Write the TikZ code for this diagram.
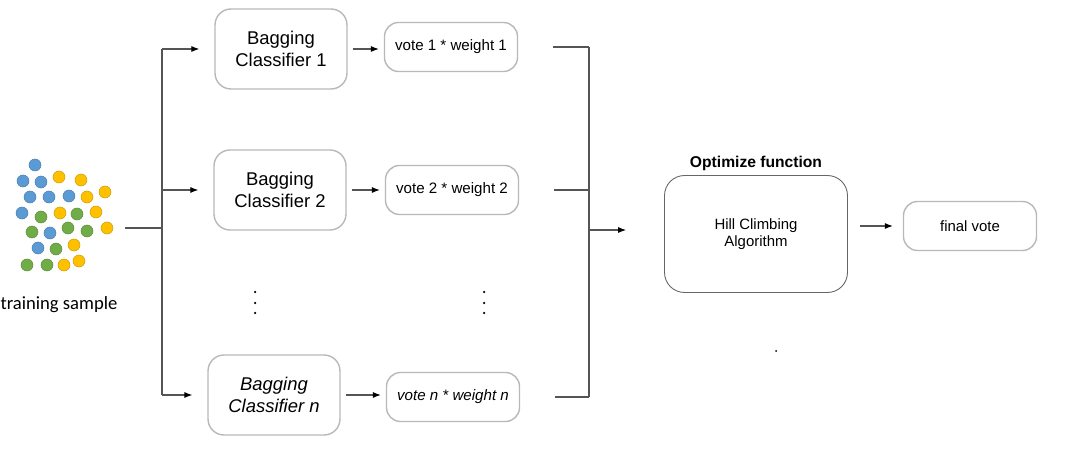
\documentclass[tikz,border=0pt]{standalone}
\usepackage{fontspec}
\setmainfont{Liberation Sans}
\newfontfamily\calibrifont{Carlito}
\usetikzlibrary{arrows.meta}
\definecolor{dotblue}{HTML}{5B9BD5}
\definecolor{dotyellow}{HTML}{FFC000}
\definecolor{dotgreen}{HTML}{70AD47}
\definecolor{boxgray}{HTML}{B8B8B8}
\definecolor{linegray}{HTML}{555555}

\begin{document}
\begin{tikzpicture}[x=0.02cm,y=-0.02cm,
    clfbox/.style={draw=boxgray,line width=0.8pt,rounded corners=0.32cm,
      minimum width=2.64cm,minimum height=1.6cm,align=center,
      font=\fontsize{10.5}{12.5}\selectfont},
    votebox/.style={draw=boxgray,line width=0.8pt,rounded corners=0.28cm,
      minimum width=2.66cm,minimum height=0.98cm,
      font=\fontsize{8.6}{10}\selectfont},
    optbox/.style={draw=gray!80!black,line width=0.5pt,rounded corners=0.4cm,
      minimum width=3.66cm,minimum height=2.34cm,align=center,
      font=\fontsize{8.5}{10}\selectfont},
    wire/.style={draw=linegray,line width=0.6pt},
    wirearrow/.style={wire,-{Latex[length=4.5pt,width=3.4pt,color=black]}}]

  \useasboundingbox (0,0) rectangle (1065,452);

  % training sample
  \foreach \x/\y/\c in {35/165/dotblue,
      23/181/dotblue, 41/182/dotblue, 59/177/dotyellow, 81/180/dotyellow,
      30/197/dotblue, 49/197/dotblue, 69/196/dotblue, 87/197/dotyellow, 105/192/dotyellow,
      22/213/dotblue, 41/217/dotgreen, 60/213/dotyellow, 77/214/dotgreen, 96/212/dotyellow,
      32/232/dotgreen, 50/233/dotblue, 68/228/dotgreen, 87/231/dotgreen, 107/228/dotyellow,
      38/248/dotblue, 56/249/dotgreen, 74/245/dotyellow,
      27/265/dotgreen, 47/265/dotgreen, 64/265/dotyellow, 79/261/dotyellow}
    \filldraw[fill=\c,draw=\c!80!black,line width=0.3pt] (\x,\y) circle (0.12cm);
  \node[font=\calibrifont\fontsize{10.6}{12}\selectfont] (lbl) at (59,305) {training sample};

  % classifiers and votes
  \node[clfbox] (bc1) at (281,49) {Bagging\\Classifier 1};
  \node[clfbox] (bc2) at (280,190) {Bagging\\Classifier 2};
  \node[clfbox] (bcn) at (274,395) {\itshape Bagging\\\itshape Classifier n};
  \node[votebox] (v1) at (451,47) {vote 1 * weight 1};
  \node[votebox] (v2) at (452,190) {vote 2 * weight 2};
  \node[votebox] (vn) at (453,397) {\itshape vote n * weight n};

  \foreach \y in {292,303,313} {
    \fill (255,\y) circle (0.025cm);
    \fill (484,\y) circle (0.025cm);
  }

  % optimizer
  \node[font=\bfseries\fontsize{8.9}{10}\selectfont] (opt) at (756,163) {Optimize function};
  \node[optbox] (hill) at (756,234) {Hill Climbing\\Algorithm};
  \node[votebox,font=\fontsize{8.5}{10}\selectfont] (fin) at (970,226) {final vote};
  \fill (776,351) circle (0.02cm);

  % connectors
  \coordinate (src) at (125,228);
  \coordinate (fork) at (162,228);
  \coordinate (merge) at (589,230);
  \draw[wire] (src) -- (fork);
  \draw[wire] (fork |- bc1) -- (fork |- bcn);
  \foreach \n in {bc1,bc2,bcn}
    \draw[wirearrow,shorten >=0.3cm] (fork |- \n) -- (\n.west);
  \foreach \c/\v in {bc1/v1,bc2/v2,bcn/vn}
    \draw[wirearrow,shorten <=0.1cm,shorten >=0.1cm] (\c.east) -- (\c.east -| \v.west);
  \foreach \v in {v1,v2,vn}
    \draw[wire,shorten <=0.7cm] (\v.east) -- (\v.east -| merge);
  \draw[wire] (merge |- v1) -- (merge |- vn);
  \draw[wirearrow,shorten >=0.76cm] (merge) -- (merge -| hill.west);
  \draw[wirearrow,shorten <=0.24cm,shorten >=0.2cm] (hill.east |- fin) -- (fin.west);
\end{tikzpicture}
\end{document}
